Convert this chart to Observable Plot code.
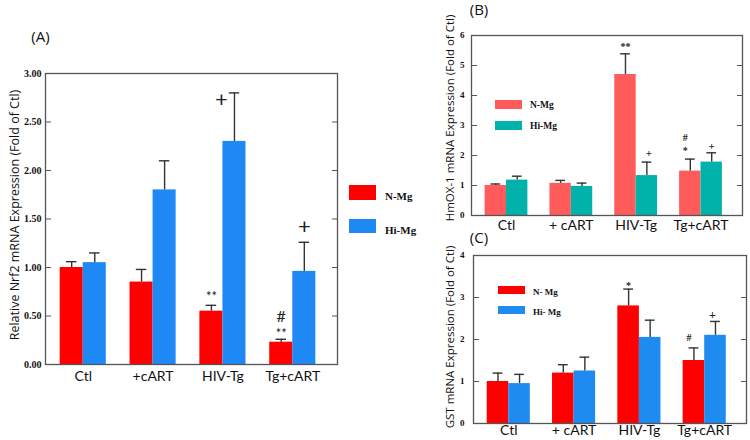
<!DOCTYPE html>
<html><head><meta charset="utf-8">
<script src="https://cdn.jsdelivr.net/npm/d3@7"></script>
<script src="https://cdn.jsdelivr.net/npm/@observablehq/plot@0.6"></script>
<style>
body{margin:0;background:#fff;}
#fig{position:relative;width:750px;height:440px;overflow:hidden;background:#fff;font-family:"Open Sans",sans-serif;color:#111;}
#fig svg{position:absolute;}
.abs{position:absolute;white-space:nowrap;transform:translate(-50%,-50%);line-height:1;}
.ytitle{position:absolute;white-space:nowrap;transform:translate(-50%,-50%) rotate(-90deg);line-height:1;}
.sw{position:absolute;}
.lg{position:absolute;white-space:nowrap;font-family:"Liberation Serif",serif;font-weight:bold;transform:translateY(-50%);line-height:1;color:#111;}
</style></head><body><div id="fig"></div>
<script>
// ---------- data ----------
const catsA = ["Ctl", "+cART", "HIV-Tg", "Tg+cART"];
const catsBC = ["Ctl", "+ cART", "HIV-Tg", "Tg+cART"];
const seriesA = ["N-Mg", "Hi-Mg"];
const seriesB = ["N-Mg", "Hi-Mg"];
const seriesC = ["N- Mg", "Hi- Mg"];

// (A) Nrf2
const nrf2N = [1.00, 0.85, 0.55, 0.23];
const nrf2NErr = [0.06, 0.13, 0.06, 0.03];
const nrf2Hi = [1.05, 1.80, 2.30, 0.96];
const nrf2HiErr = [0.10, 0.30, 0.50, 0.30];
// (B) HmOX-1
const hmoxN = [1.00, 1.07, 4.70, 1.48];
const hmoxNErr = [0.05, 0.10, 0.69, 0.40];
const hmoxHi = [1.18, 0.97, 1.33, 1.78];
const hmoxHiErr = [0.13, 0.11, 0.45, 0.31];
// (C) GST
const gstN = [1.00, 1.20, 2.80, 1.50];
const gstNErr = [0.20, 0.20, 0.40, 0.30];
const gstHi = [0.95, 1.25, 2.05, 2.10];
const gstHiErr = [0.22, 0.33, 0.41, 0.33];

const ticksA = [0, 0.5, 1, 1.5, 2, 2.5, 3];
const ticksB = [0, 1, 2, 3, 4, 5, 6];
const ticksC = [0, 1, 2, 3, 4];

// significance marks: category index, series index, text, value level
const notesA = [
  {cat: 2, s: 0, label: "**", y: 0.74},
  {cat: 3, s: 0, label: "**", y: 0.36},
  {cat: 3, s: 0, label: "#", y: 0.49},
  {cat: 2, s: 1, label: "+", y: 2.73},
  {cat: 3, s: 1, label: "+", y: 1.42}
];
const notesB = [
  {cat: 2, s: 0, label: "**", y: 5.73},
  {cat: 2, s: 1, label: "+", y: 2.07},
  {cat: 3, s: 0, label: "#", y: 2.6},
  {cat: 3, s: 0, label: "*", y: 2.27},
  {cat: 3, s: 1, label: "+", y: 2.3}
];
const notesC = [
  {cat: 2, s: 0, label: "*", y: 3.35},
  {cat: 3, s: 0, label: "#", y: 2.04},
  {cat: 3, s: 1, label: "+", y: 2.59}
];

// ---------- drawing ----------
const fig = document.getElementById("fig");

function panel(cfg) {
  const bw = 0.33, cap = 0.075;
  const rows = [];
  cfg.cats.forEach((c, i) => {
    rows.push({i, s: 0, v: cfg.n[i], e: cfg.nErr[i]});
    rows.push({i, s: 1, v: cfg.hi[i], e: cfg.hiErr[i]});
  });
  const xc = d => d.i + (d.s === 0 ? -bw / 2 : bw / 2);
  const noteMarks = cfg.notes.map((n, k) => Plot.text([n], {
    x: d => d.cat + (d.s === 0 ? -bw / 2 : bw / 2),
    y: "y",
    text: "label",
    fontSize: cfg.noteStyle[n.label].size,
    fontFamily: cfg.noteFont,
    fontWeight: cfg.noteWeight,
    dx: cfg.noteDx[k],
    dy: cfg.noteStyle[n.label].dy,
    fill: "#222"
  }));
  const svg = Plot.plot({
    width: cfg.width, height: cfg.height,
    marginLeft: cfg.ml, marginRight: cfg.mr, marginTop: cfg.mt, marginBottom: cfg.mb,
    style: {background: "transparent", overflow: "visible"},
    x: {domain: [-0.54, 3.64]},
    y: {domain: cfg.yDomain},
    color: {type: "ordinal", domain: [0, 1], range: cfg.colors},
    marks: [
      Plot.rect(rows, {x1: d => d.i + (d.s === 0 ? -bw : 0), x2: d => d.i + (d.s === 0 ? 0 : bw), y1: d => 0, y2: "v", fill: "s"}),
      Plot.ruleX(rows, {x: xc, y1: "v", y2: d => d.v + d.e, stroke: "#333", strokeWidth: 1.4}),
      Plot.ruleY(rows, {y: d => d.v + d.e, x1: d => xc(d) - cap, x2: d => xc(d) + cap, stroke: "#333", strokeWidth: 1.4}),
      ...noteMarks,
      Plot.axisY({ticks: cfg.ticks, tickSize: 0, tickPadding: cfg.tp, tickFormat: cfg.fmt, label: null,
        fontFamily: "Liberation Serif", fontWeight: "bold", fontSize: cfg.tickFont, fill: "#111"}),
      Plot.axisY({anchor: "right", frameAnchor: "left", ticks: cfg.ticks, tickSize: 5, tickFormat: () => "", label: null, stroke: "#555"}),
      Plot.axisY({anchor: "left", frameAnchor: "right", ticks: cfg.ticks, tickSize: 5, tickFormat: () => "", label: null, stroke: "#555"}),
      Plot.axisX({ticks: [0, 1, 2, 3], tickFormat: i => cfg.cats[i], tickSize: 0, tickPadding: cfg.xp, label: null,
        fontFamily: "Lato", fontSize: cfg.xFont, fill: "#111"}),
      Plot.frame({stroke: "#555", strokeWidth: 1.3})
    ]
  });
  svg.style.left = cfg.left + "px";
  svg.style.top = cfg.top + "px";
  fig.appendChild(svg);
}

panel({cats: catsA, n: nrf2N, nErr: nrf2NErr, hi: nrf2Hi, hiErr: nrf2HiErr,
  colors: ["#FF0000", "#1E88F5"], yDomain: [0, 3], ticks: ticksA, fmt: d3.format(".2f"),
  width: 345, height: 400, ml: 45, mr: 8, mt: 73, mb: 36, left: 0, top: 0,
  tp: 4, tickFont: 10, xp: 7, xFont: 14,
  notes: notesA, noteDx: [0, 0, 0, -13, 0], noteFont: "Lato", noteWeight: "normal",
  noteStyle: {"**": {size: 13, dy: 4}, "#": {size: 16, dy: 0}, "+": {size: 22, dy: 0}}});

panel({cats: catsBC, n: hmoxN, nErr: hmoxNErr, hi: hmoxHi, hiErr: hmoxHiErr,
  colors: ["#FF5B5B", "#00B2A9"], yDomain: [0, 6], ticks: ticksB, fmt: d3.format("d"),
  width: 370, height: 240, ml: 91, mr: 8, mt: 35, mb: 25, left: 380, top: 0,
  tp: 7, tickFont: 9, xp: 5, xFont: 14,
  notes: notesB, noteDx: [0, 2, -5, -5, 0], noteFont: "Liberation Serif", noteWeight: "bold",
  noteStyle: {"**": {size: 10, dy: 3}, "*": {size: 10, dy: 3}, "#": {size: 10, dy: 0}, "+": {size: 11, dy: 0}}});

panel({cats: catsBC, n: gstN, nErr: gstNErr, hi: gstHi, hiErr: gstHiErr,
  colors: ["#FF0000", "#1E8BF0"], yDomain: [0, 4], ticks: ticksC, fmt: d3.format("d"),
  width: 370, height: 220, ml: 93, mr: 4, mt: 35, mb: 17, left: 380, top: 220,
  tp: 9, tickFont: 9, xp: 2, xFont: 14,
  notes: notesC, noteDx: [0, -5, -3], noteFont: "Liberation Serif", noteWeight: "bold",
  noteStyle: {"*": {size: 10, dy: 3}, "#": {size: 10, dy: 0}, "+": {size: 12, dy: 0}}});

// ---------- text & legends ----------
function addText(cls, txt, x, y, css) {
  const el = document.createElement("div");
  el.className = cls;
  el.textContent = txt;
  el.style.left = x + "px";
  el.style.top = y + "px";
  Object.assign(el.style, css || {});
  fig.appendChild(el);
}
function addSwatch(x, y, w, h, color) {
  const el = document.createElement("div");
  el.className = "sw";
  Object.assign(el.style, {left: x + "px", top: y + "px", width: w + "px", height: h + "px", background: color});
  fig.appendChild(el);
}

addText("abs", "(A)", 40.5, 36, {fontSize: "15px"});
addText("abs", "(B)", 479, 9, {fontSize: "15px"});
addText("abs", "(C)", 479, 237, {fontSize: "15px"});

addText("ytitle", "Relative Nrf2 mRNA Expression (Fold of Ctl)", 15, 215, {fontSize: "12.5px"});
addText("ytitle", "HmOX-1 mRNA Expression (Fold of Ctl)", 450, 118, {fontSize: "11.5px"});
addText("ytitle", "GST mRNA Expression (Fold of Ctl)", 450, 337, {fontSize: "11.5px"});

addSwatch(349, 185, 27, 15, "#FF0000");
addSwatch(349, 219, 27, 14, "#1E88F5");
addText("lg", seriesA[0], 385, 196, {fontSize: "11px"});
addText("lg", seriesA[1], 385, 230, {fontSize: "11px"});

addSwatch(495, 100, 27, 9, "#FF5B5B");
addSwatch(495, 121, 27, 9, "#00B2A9");
addText("lg", seriesB[0], 530, 106, {fontSize: "9.5px"});
addText("lg", seriesB[1], 530, 127, {fontSize: "9.5px"});

addSwatch(498, 286, 27, 8, "#FF0000");
addSwatch(498, 306, 27, 8, "#1E8BF0");
addText("lg", seriesC[0], 533, 291.5, {fontSize: "9px"});
addText("lg", seriesC[1], 533, 311.5, {fontSize: "9px"});
</script></body></html>
